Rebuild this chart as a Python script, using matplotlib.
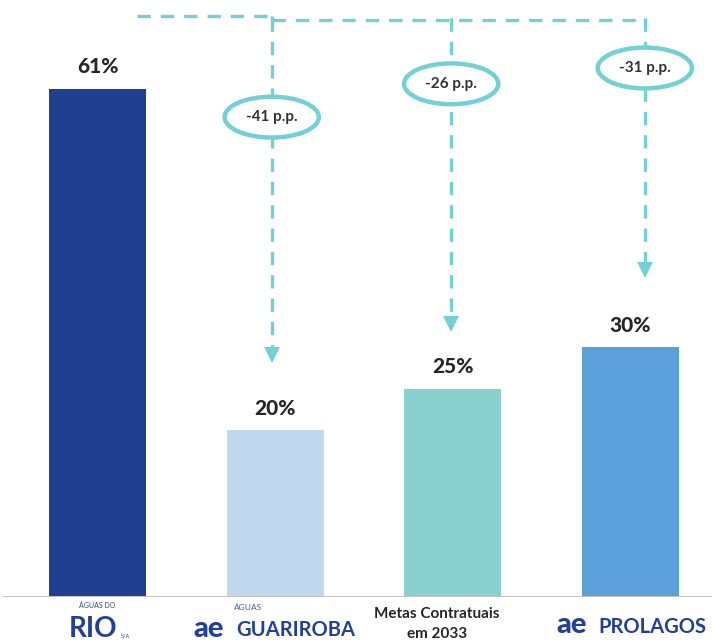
import matplotlib
matplotlib.use("Agg")
import matplotlib.pyplot as plt
from matplotlib.patches import Ellipse

categories = ["Águas do Rio", "Águas Guariroba", "Metas Contratuais em 2033", "Prolagos"]
values = [61, 20, 25, 30]
value_labels = ["61%", "20%", "25%", "30%"]
diff_labels = ["-41 p.p.", "-26 p.p.", "-31 p.p."]

bar_colors = ["#213f91", "#bfd8ef", "#89d1cf", "#5ba0da"]
teal = "#72d0d6"
navy = "#22409a"

plt.rcParams['font.family'] = ['Lato', 'DejaVu Sans']

fig = plt.figure(figsize=(7.12, 6.42), dpi=100)
ax = fig.add_axes([0, 45/642, 1, 1 - 45/642])
ax.set_xlim(-0.549, 3.458)
ax.set_ylim(0, 71.66)
ax.axis("off")

x = list(range(len(categories)))
ax.bar(x, values, width=0.546, color=bar_colors, zorder=2)
ax.axhline(0, color="#c4c4c4", lw=2.2, zorder=3, xmin=0.005, xmax=1)

for xi, v, lab in zip(x, values, value_labels):
    ax.annotate(lab, (xi, v), xytext=(0, 9), textcoords="offset points",
                ha="center", va="bottom", fontsize=15, fontweight="black", color="#262626")

# dashed connectors
ls = dict(color=teal, lw=2.4, ls=(0, (4, 3)), zorder=1)
ax.plot([0.22, 0.98], [69.7, 69.7], **ls)
ax.plot([0.98, 0.98], [69.7, 69.2], **ls)
ax.plot([0.98, 3.08], [69.2, 69.2], **ls)

drops = [(0.98, 57.6, 28.1), (1.99, 61.6, 31.9), (3.08, 63.5, 38.4)]
for (xd, yc, ytip), dl in zip(drops, diff_labels):
    ax.plot([xd, xd], [69.5, ytip + 1.5], **ls)
    ax.plot([xd], [ytip + 0.9], marker="v", markersize=11, color=teal,
            markeredgewidth=0, zorder=4)
    e = Ellipse((xd, yc), width=0.53, height=4.9, facecolor="white",
                edgecolor=teal, lw=3.2, zorder=5)
    ax.add_patch(e)
    ax.text(xd, yc, dl, ha="center", va="center", fontsize=11,
            fontweight="bold", color="#333333", zorder=6)

# category labels (logos rendered as text)
def fx(px):
    return px / 712
def fy(py):
    return 1 - py / 642

fig.text(fx(97), fy(606), "ÁGUAS DO", ha="center", va="center", fontsize=5, color="#3a4a80")
fig.text(fx(93), fy(629), "RIO", ha="center", va="center", fontsize=20, color=navy, fontweight="bold")
fig.text(fx(125), fy(636), "S/A", ha="center", va="center", fontsize=4, color=navy)

fig.text(fx(248), fy(607), "ÁGUAS", ha="center", va="center", fontsize=6, color="#4060a8")
fig.text(fx(209), fy(629), "ae", ha="center", va="center", fontsize=21, color=navy, fontweight="black")
fig.text(fx(296), fy(630), "GUARIROBA", ha="center", va="center", fontsize=14.5, color=navy, fontweight="bold")

fig.text(fx(437), fy(614), "Metas Contratuais", ha="center", va="center", fontsize=11, color="#262626", fontweight="bold")
fig.text(fx(437), fy(634), "em 2033", ha="center", va="center", fontsize=11, color="#262626", fontweight="bold")

fig.text(fx(572), fy(625), "ae", ha="center", va="center", fontsize=21, color=navy, fontweight="black")
fig.text(fx(652), fy(627), "PROLAGOS", ha="center", va="center", fontsize=14.5, color=navy, fontweight="bold")

fig.savefig("out.png", dpi=100)
